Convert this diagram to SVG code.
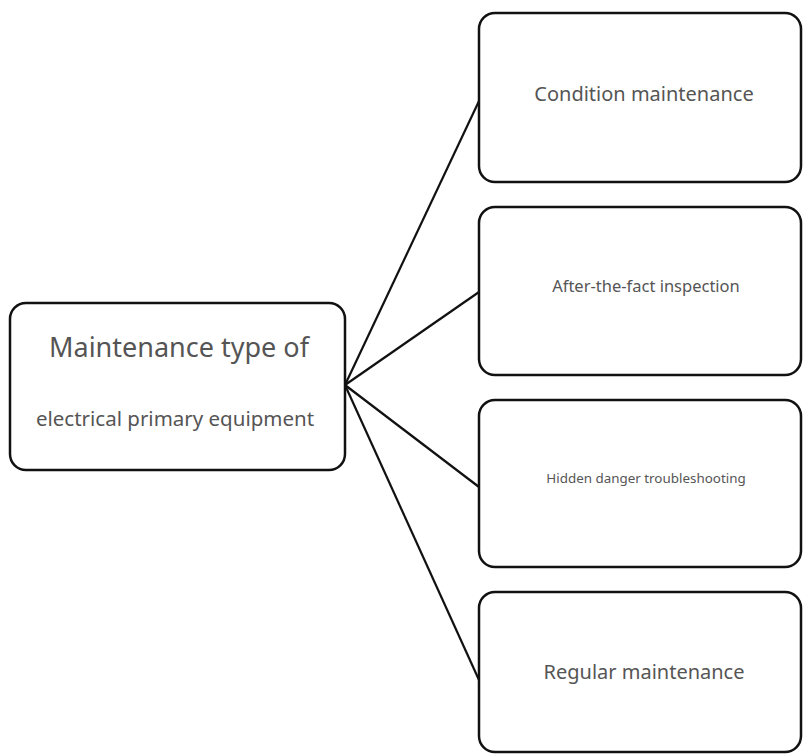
<svg xmlns="http://www.w3.org/2000/svg" width="803" height="756" viewBox="0 0 803 756">
<style>
.box{fill:#fff;stroke:#111;stroke-width:2.5}
.lbl{font-family:"Noto Sans","Liberation Sans",sans-serif;fill:#555;text-anchor:middle}
.con{stroke:#111;stroke-width:2.2;fill:none}
</style>
<rect width="803" height="756" fill="#fff"/>
<g id="connectors">
<line class="con" x1="345" y1="385" x2="479" y2="101"/>
<line class="con" x1="345" y1="385" x2="479" y2="292"/>
<line class="con" x1="345" y1="385" x2="479" y2="487"/>
<line class="con" x1="345" y1="385" x2="479" y2="680"/>
</g>
<g id="root">
<rect class="box" x="10" y="303" width="335" height="167" rx="16"/>
<text class="lbl" x="179" y="357" font-size="27">Maintenance type of</text>
<text class="lbl" x="175" y="426" font-size="20.5">electrical primary equipment</text>
</g>
<g id="n1">
<rect class="box" x="479" y="13" width="322" height="169" rx="16"/>
<text class="lbl" x="644" y="101" font-size="20">Condition maintenance</text>
</g>
<g id="n2">
<rect class="box" x="479" y="207" width="322" height="168" rx="16"/>
<text class="lbl" x="646" y="292" font-size="16.5">After-the-fact inspection</text>
</g>
<g id="n3">
<rect class="box" x="479" y="400" width="322" height="167" rx="16"/>
<text class="lbl" x="646" y="483" font-size="13.4">Hidden danger troubleshooting</text>
</g>
<g id="n4">
<rect class="box" x="479" y="592" width="322" height="160" rx="16"/>
<text class="lbl" x="644" y="679" font-size="20">Regular maintenance</text>
</g>
</svg>
